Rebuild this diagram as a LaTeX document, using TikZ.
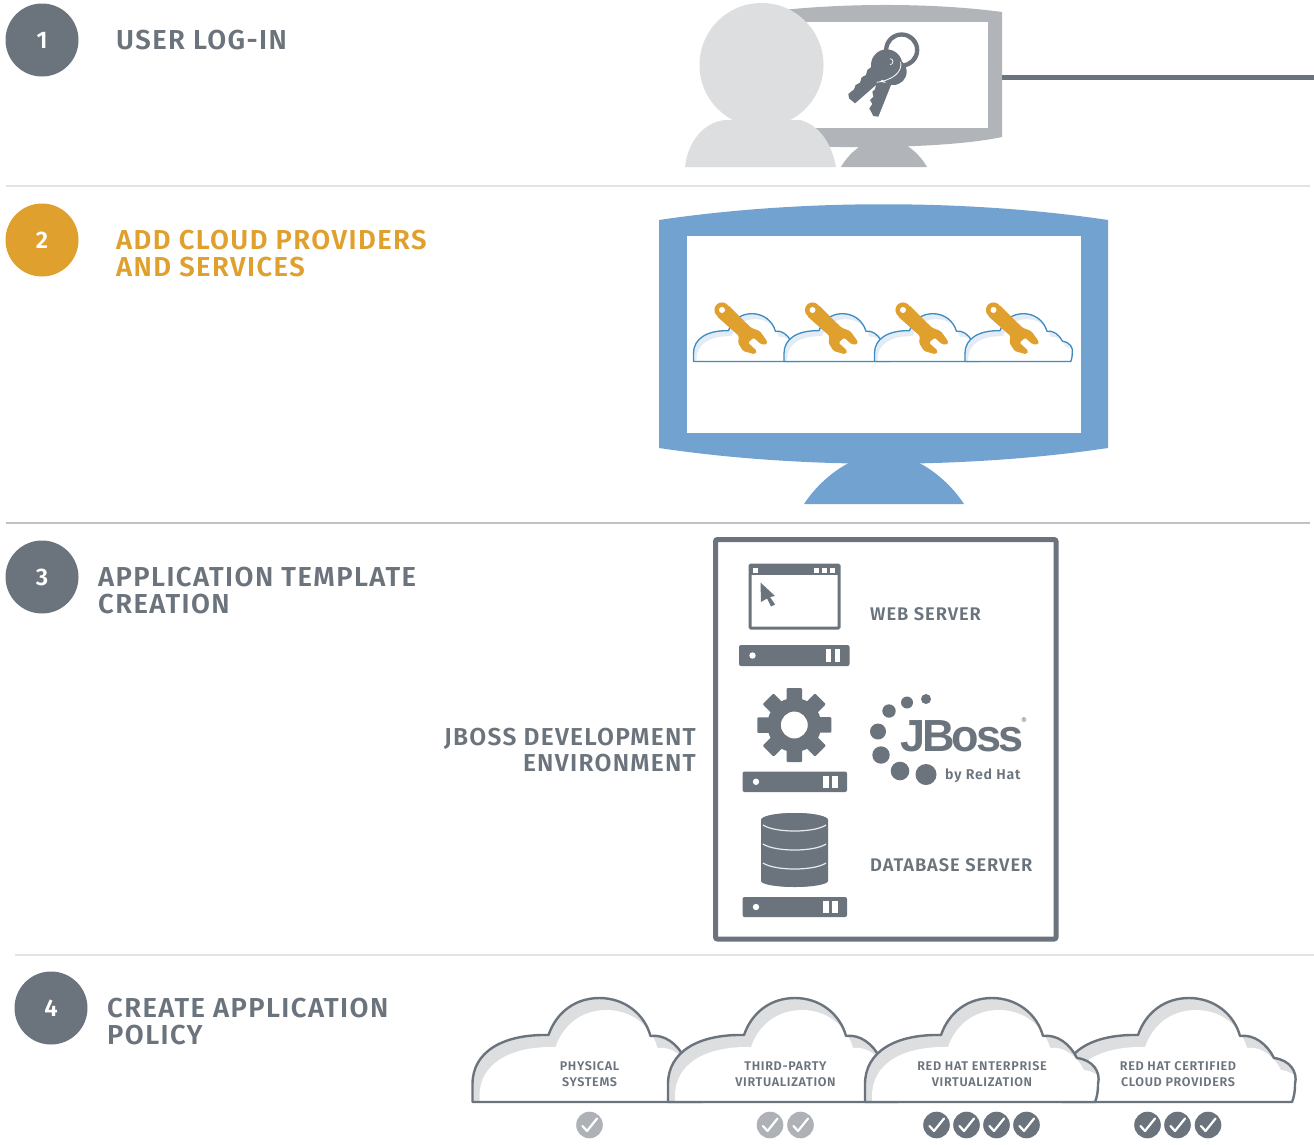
\documentclass[tikz,border=0pt]{standalone}
\usepackage{fontspec}
\setmainfont{Fira Sans}
\newfontfamily\dinfont[LetterSpace=5.2]{Fira Sans SemiBold}
\newfontfamily\jbfont[LetterSpace=-6.5]{Liberation Sans Bold}
\definecolor{slate}{HTML}{6B747D}
\definecolor{orng}{HTML}{E0A02E}
\definecolor{mongray}{HTML}{B1B5B9}
\definecolor{pale}{HTML}{DCDEE0}
\definecolor{blu}{HTML}{72A3D0}
\definecolor{cloudblue}{HTML}{3D8BC0}
\definecolor{cloudpale}{HTML}{E3ECF5}
\definecolor{rule}{HTML}{E2E4E6}
\definecolor{chkgray}{HTML}{AEB2B6}
\newcommand\cloudshape{(0,0) -- (0,-18) .. controls (0,-50) and (30,-68) .. (76,-67) .. controls (84,-90) and (103,-104) .. (127,-104) .. controls (152,-104) and (172,-88) .. (178,-66) .. controls (192,-68) and (205,-58) .. (212,-44) .. controls (228,-42) and (236,-30) .. (233,-18) .. controls (233,-10) and (232,-5) .. (230,0) -- cycle}
% #1 x, #2 y, #3 scale, #4 band colour, #5 line colour, #6 line width
\newcommand\drawcloud[6]{%
  \begin{scope}[shift={(#1,#2)},scale=#3]
    \begin{scope}
      \clip \cloudshape;
      \fill[#4] \cloudshape;
      \fill[white,shift={(7,12)}] \cloudshape;
    \end{scope}
    \draw[#5,line width=#6,line join=round] \cloudshape;
  \end{scope}}
\newcommand\wrench[2]{%
  \begin{scope}[shift={(#1,#2)}]
    \fill[orng,rounded corners=1.5pt] (6,-5) -- (29,17.7) -- (37.7,21) -- (45,31) -- (45,34.3) -- (39,34.3) -- (31.7,27.7) -- (26,32.7) -- (35,41) -- (32.7,44.3) -- (21,41) -- (16,32.7) -- (17,26) -- (-5.5,6) -- cycle;
    \fill[orng] (0,0) circle (7.6);
    \fill[white] (0,0) circle (3);
  \end{scope}}
\newcommand\serverbar[4]{% x1,y1,x2,y2
  \fill[slate,rounded corners=2pt] (#1,#2) rectangle (#3,#4);
  \fill[white] (#1+13.5,#2*.5+#4*.5) circle (3.2);
  \fill[white] (#3-24,#2+4) rectangle (#3-18.5,#4-4);
  \fill[white] (#3-15,#2+4) rectangle (#3-9.5,#4-4);}
\newcommand\chk[3]{% x,y,colour
  \fill[#3] (#1,#2) circle (13.3);
  \draw[white,line width=2.2pt,line cap=round,line join=round] (#1-7,#2+1) -- (#1-2.5,#2+6) -- (#1+7.5,#2-6.5);}
\tikzset{
  stepnum/.style={circle,fill=slate,minimum size=73pt,inner sep=0pt,text=white,font=\dinfont\fontsize{24}{24}\selectfont},
  head/.style={anchor=west,align=left,inner sep=0pt,text=slate,font=\dinfont\fontsize{27.4}{27}\selectfont},
  small/.style={inner sep=0pt,text=slate,font=\dinfont\fontsize{18.3}{26}\selectfont},
  cloudlabel/.style={inner sep=0pt,align=center,text=slate,font=\dinfont\fontsize{12.6}{16}\selectfont},
  divider/.style={draw=rule,line width=2pt}
}
\begin{document}
\begin{tikzpicture}[x=1pt,y=-1pt]
\useasboundingbox (0,0) rectangle (1314,1144);
\fill[white] (0,0) rectangle (1314,1144);

% dividers
\draw[divider] (6,186) -- (1310,186);
\draw[divider,draw=rule!85!black,line width=1.5pt] (6,523) -- (1310,523);
\draw[divider] (15,955) -- (1314,955);

% step markers and titles
\node[stepnum] (n1) at (42,40) {1};
\node[stepnum,fill=orng] (n2) at (42,240) {2};
\node[stepnum] (n3) at (42,577) {3};
\node[stepnum] (n4) at (51,1008) {4};
\node[head] (t1) at (116,40) {USER LOG-IN};
\node[head,text=orng] (t2) at (116,254) {ADD CLOUD PROVIDERS\\AND SERVICES};
\node[head] (t3) at (98,591) {APPLICATION TEMPLATE\\CREATION};
\node[head] (t4) at (107,1022) {CREATE APPLICATION\\POLICY};

% step 1: monitor, keys, user
\fill[mongray] (783,10) .. controls (850,3) and (935,3) .. (1002,12) -- (1002,137) .. controls (960,146) and (880,149) .. (800,146) -- cycle;
\fill[white] (790,22) rectangle (988,128);
\fill[mongray] (841,167) .. controls (846,158) and (854,150) .. (862,145) -- (906,145) .. controls (914,150) and (922,158) .. (927,167) -- cycle;
\coordinate (monout) at (1002,77);
\coordinate (lineend) at (1314,77);
\draw[slate,line width=5pt] (monout) -- (lineend);
% keys (typed in thirds of a pixel)
\begin{scope}[shift={(660,0)},scale=1/3]
  \fill[slate,even odd rule] (725,150) circle (53) (725,150) circle (40);
  \fill[slate] (700,215) circle (40);
  \fill[slate,line join=round] (650,245) -- (645,268) -- (637,275) -- (640,290) -- (630,300) -- (637,312) -- (628,325) -- (640,348) -- (655,350) -- (695,250) -- cycle;
  \fill[slate] (680,195) circle (47);
  \fill[slate] (635,200) -- (622,210) -- (618,225) -- (605,232) -- (600,248) -- (587,255) -- (582,268) -- (565,282) -- (567,295) -- (585,310) -- (665,240) -- cycle;
  \draw[white,line width=.8pt] (722,185) .. controls (728,215) and (700,240) .. (650,247);
  \draw[white,line width=.7pt] (690,176) arc (-90:90:9);
\end{scope}
% person
\fill[pale] (761.5,65) ellipse (62 and 62);
\fill[pale] (685,167) .. controls (688,140) and (705,122) .. (725,120) -- (800,120) .. controls (820,125) and (832,145) .. (836,167) -- cycle;

% step 2: monitor with clouds
\fill[blu] (659,220) .. controls (800,199) and (967,199) .. (1108,220) -- (1108,448) .. controls (967,469) and (800,469) .. (659,448) -- cycle;
\fill[white] (687,236) rectangle (1081,433);
\fill[blu] (804,504) .. controls (817,484) and (838,466) .. (860,458) -- (908,458) .. controls (930,466) and (951,484) .. (964,504) -- cycle;
\drawcloud{693.5}{361.5}{.46}{cloudpale}{cloudblue}{1.3pt}
\drawcloud{784}{361.5}{.46}{cloudpale}{cloudblue}{1.3pt}
\drawcloud{874.5}{361.5}{.46}{cloudpale}{cloudblue}{1.3pt}
\drawcloud{965}{361.5}{.46}{cloudpale}{cloudblue}{1.3pt}
\wrench{722}{310}
\wrench{812.5}{310}
\wrench{903}{310}
\wrench{993.5}{310}

% step 3: template box
\draw[slate,line width=5pt,rounded corners=2pt] (715.5,539.5) rectangle (1056,939);
\draw[slate,line width=3pt,rounded corners=1pt] (750,565) rectangle (839,628);
\fill[slate] (750,565) rectangle (839,575);
\fill[white] (753,567.5) rectangle (758,572.5);
\fill[white] (814,567.5) rectangle (819,572.5);
\fill[white] (822,567.5) rectangle (827,572.5);
\fill[white] (830,567.5) rectangle (835,572.5);
\fill[slate] (760.5,582.5) -- (775,596) -- (770,597) -- (775,604.5) -- (771,606.5) -- (767,598.5) -- (761,602) -- cycle;
\serverbar{739}{645}{849.5}{666}
\fill[slate,even odd rule] (794.3,725) circle (27) (794.3,725) circle (13.5);
\foreach \a in {0,45,...,315}{
  \fill[slate,rotate around={\a:(794.3,725)},rounded corners=1pt] (786.5,688) rectangle (802,702);
}
\serverbar{742.5}{771.5}{847}{792}
\fill[slate] (761,820) arc (180:360:33.5 and 7) -- (828,881) arc (0:180:33.5 and 6) -- cycle;
\draw[slate,line width=.1pt] (761,820) -- (761,881);
\fill[slate] (794.5,820) ellipse (33.5 and 7);
\fill[slate] (761,880) .. controls (770,889) and (819,889) .. (828,880) -- cycle;
\foreach \yy in {825,844,863}{
  \draw[white!85!slate,line width=1.2pt] (763,\yy) .. controls (775,\yy+8) and (814,\yy+8) .. (826,\yy);
}
\serverbar{742.5}{897}{847}{917}
\node[small,anchor=west] (web) at (870,614) {WEB SERVER};
\node[small,anchor=west] (db) at (870,865) {DATABASE SERVER};
\node[head,anchor=east,align=right,font=\dinfont\fontsize{24.5}{26}\selectfont] (jdev) at (696,750) {JBOSS DEVELOPMENT\\ENVIRONMENT};
% JBoss logo
\fill[slate] (926,699) circle (5) (907,702.5) circle (6) (889,711) circle (6.7) (878,731.5) circle (8) (881,755) circle (8.7) (900,771) circle (9.3) (926,774.5) circle (10.5);
\node[inner sep=0pt,anchor=base west,text=slate,font=\jbfont\fontsize{45}{45}\selectfont] (jboss) at (900,751) {JBoss};
\node[inner sep=0pt,text=slate,font=\fontsize{9}{9}\selectfont] (reg) at (1024,721) {®};
\node[inner sep=0pt,anchor=west,text=slate,font=\dinfont\fontsize{14.2}{15}\selectfont] (byrh) at (945,776) {by Red Hat};

% step 4: clouds
\drawcloud{472.5}{1102}{1}{pale}{slate}{2.4pt}
\drawcloud{668}{1102}{1}{pale}{slate}{2.4pt}
\drawcloud{1062}{1102}{1}{pale}{slate}{2.4pt}
\drawcloud{865}{1102}{1}{pale}{slate}{2.4pt}
\node[cloudlabel] (c1) at (589.5,1074) {PHYSICAL\\SYSTEMS};
\node[cloudlabel] (c2) at (785.5,1074) {THIRD-PARTY\\VIRTUALIZATION};
\node[cloudlabel] (c3) at (982,1074) {RED HAT ENTERPRISE\\VIRTUALIZATION};
\node[cloudlabel] (c4) at (1178,1074) {RED HAT CERTIFIED\\CLOUD PROVIDERS};
\chk{589.5}{1125}{chkgray}
\chk{770}{1125}{chkgray}
\chk{800.5}{1125}{chkgray}
\chk{936.5}{1125}{slate}
\chk{966.5}{1125}{slate}
\chk{996.5}{1125}{slate}
\chk{1026.5}{1125}{slate}
\chk{1147.5}{1125}{slate}
\chk{1177.5}{1125}{slate}
\chk{1208}{1125}{slate}
\end{tikzpicture}
\end{document}
